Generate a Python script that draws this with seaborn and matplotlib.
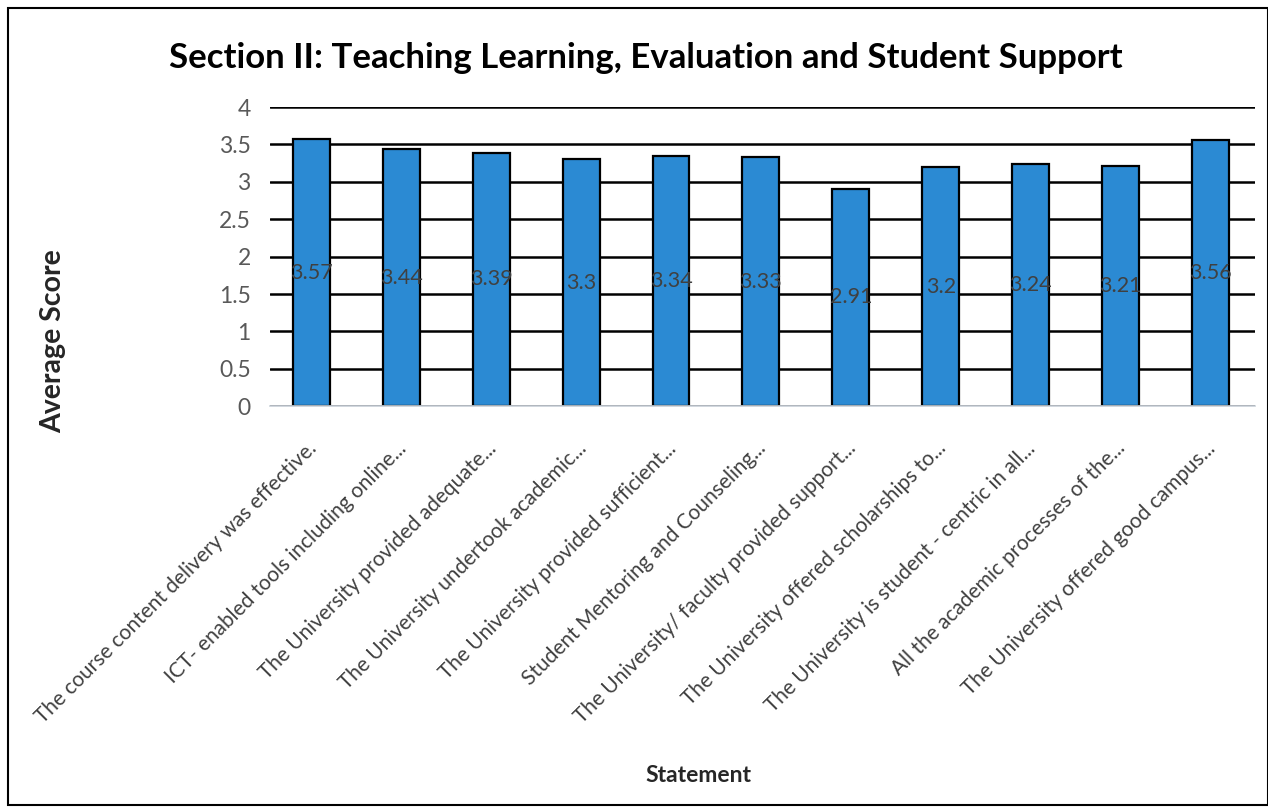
import matplotlib
matplotlib.use("Agg")
import matplotlib.pyplot as plt
import matplotlib.transforms as mtrans
import seaborn as sb
import pandas as pd
from matplotlib.patches import Rectangle

statements = [
    "The course content delivery was effective.",
    "ICT- enabled tools including online...",
    "The University provided adequate...",
    "The University undertook academic...",
    "The University provided sufficient...",
    "Student Mentoring and Counseling...",
    "The University/ faculty provided support...",
    "The University offered scholarships to...",
    "The University is student - centric in all...",
    "All the academic processes of the...",
    "The University offered good campus...",
]
scores = [3.57, 3.44, 3.39, 3.3, 3.34, 3.33, 2.91, 3.2, 3.24, 3.21, 3.56]
scoreLabels = ["3.57", "3.44", "3.39", "3.3", "3.34", "3.33", "2.91", "3.2", "3.24", "3.21", "3.56"]

df = pd.DataFrame({"Statement": statements, "Score": scores})

sb.set_style("white")
plt.rcParams['font.family'] = ['Lato', 'DejaVu Sans']

fig = plt.figure(figsize=(12.68, 8.11), dpi=100)
ax = fig.add_axes([0.213, 0.499, 0.777, 0.369])

sb.barplot(data=df, x="Statement", y="Score", color="#2B8AD3", saturation=1,
           width=0.41, edgecolor="black", linewidth=1.6, ax=ax)

#Black gridlines behind bars
ax.set_axisbelow(True)
ax.yaxis.grid(True, color="black", linewidth=1.8)
ax.set_ylim(0, 4)
ax.set_yticks([0, 0.5, 1, 1.5, 2, 2.5, 3, 3.5, 4])
ax.set_yticklabels(["0", "0.5", "1", "1.5", "2", "2.5", "3", "3.5", "4"])
ax.set_xlim(-0.46, 10.5)
for sp in ["top", "right", "left"]:
    ax.spines[sp].set_visible(False)
ax.spines["bottom"].set_color("#c8d0d8")
ax.spines["bottom"].set_linewidth(1.2)
ax.tick_params(axis="both", length=0)
ax.tick_params(axis="y", labelsize=16.5, colors="#595959", pad=14)
ax.tick_params(axis="x", labelsize=15, colors="#404040", pad=28)
offset = mtrans.ScaledTranslation(2/100, 0, fig.dpi_scale_trans)
for lab in ax.get_xticklabels():
    lab.set_rotation(45)
    lab.set_ha("right")
    lab.set_va("center")
    lab.set_rotation_mode("anchor")
    lab.set_transform(lab.get_transform() + offset)

#Value labels in the middle of each bar
for i in range(len(scores)):
    ax.text(i, scores[i]/2, scoreLabels[i], ha="center", va="center",
            fontsize=15.5, color="#404040")

ax.set_xlabel("Statement", fontsize=16.5, fontweight="bold", labelpad=0)
ax.xaxis.set_label_coords(0.435, -1.2)
ax.set_ylabel("Average Score", fontsize=20.5, fontweight="bold")
ax.yaxis.set_label_coords(-0.22, 0.217)
ax.yaxis.label.set_va("center")

fig.text(0.509, 0.928, "Section II: Teaching Learning, Evaluation and Student Support",
         ha="center", va="center", fontsize=25, fontweight="bold", color="black")

#Border around the chart
fig.patches.append(Rectangle((0.006, 0.007), 0.994, 0.983, transform=fig.transFigure,
                             fill=False, edgecolor="black", linewidth=1.5))

plt.savefig("out.png", dpi=100)
